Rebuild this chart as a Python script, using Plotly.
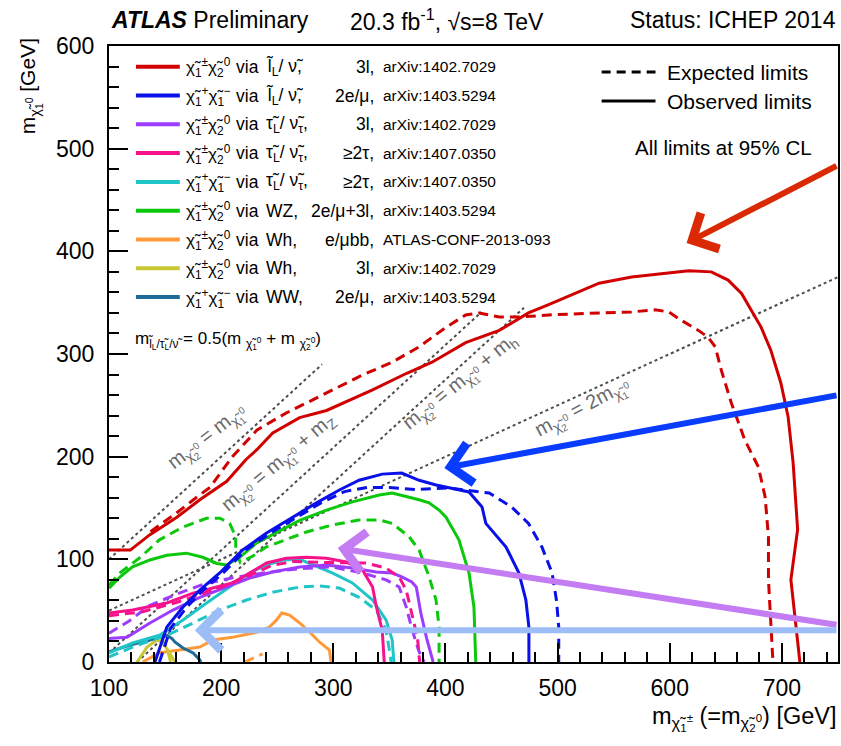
import plotly.graph_objects as go

# ---------------- data (GeV) ----------------
red_obs_x = [100, 119, 136.5, 160.5, 181, 205, 222, 232, 246, 270, 294, 314, 335, 365, 388, 418, 448, 474, 492, 537, 566, 617, 637, 652, 664, 681.5, 690, 699, 705.5, 710, 714, 708, 712, 716]
red_obs_y = [109, 109, 124, 141, 158, 176, 197, 207, 223, 238, 245, 255, 265, 281, 292, 311, 323, 340, 348, 369, 375, 381, 380, 372, 359, 326, 304, 272, 239, 194, 129, 80, 38, 0]
red_exp_x = [137, 160, 180, 190, 210, 232, 258, 281, 305, 326, 352.5, 376.5, 400.5, 418, 430, 448, 466, 492, 537, 566, 587, 599, 610, 625.5, 634, 640.6, 646, 655, 667, 679, 685, 688, 688, 689.6, 692]
red_exp_y = [127, 145, 162, 170, 200, 226, 242.5, 255, 268, 279.5, 292, 307, 326, 338, 340, 336, 336, 338, 340, 341, 343, 341, 333, 323, 316.5, 307, 284, 252, 216, 190, 161, 122, 80, 48, 0]

blue_obs_x = [141, 151.6, 166, 181, 198.7, 219, 240.5, 263.6, 285, 305.4, 323, 343.6, 361, 376.5, 391.6, 421, 432.6, 436, 454, 465.5, 471.7, 474.4, 474.4]
blue_obs_y = [0, 34, 53.6, 70, 86.7, 109, 125.6, 141, 155, 167.5, 177, 183, 184, 177, 172.4, 165.6, 151, 135, 112, 86.7, 60.4, 34, 0]
blue_exp_x = [145, 155, 169, 184, 202, 222, 244, 267, 289, 310, 330, 350, 374, 403, 427, 439, 459, 474, 486, 495, 499, 501, 501]
blue_exp_y = [0, 33, 53, 70, 87, 109, 125.6, 141, 155, 166, 170, 170, 168, 169.5, 166, 164.6, 151, 135, 112, 87, 60, 34, 0]

violet_obs_x = [100, 116, 136.5, 157, 181, 205, 225.4, 245.8, 270, 293.8, 317, 338.4, 352.5, 361, 370, 374, 378, 383, 389]
violet_obs_y = [23, 24, 38, 50.6, 63, 73, 81.8, 87.7, 92.6, 94.5, 91.5, 87.7, 86.7, 83, 78, 73, 48, 24, 0]
violet_exp_x = [100, 118, 136, 160, 185, 210, 240, 270, 299, 326, 347, 358.7, 365, 370.4, 376.5, 381]
violet_exp_y = [28, 40, 55, 66, 76, 82, 87, 91, 92.6, 86.7, 80, 73, 53.6, 31, 10, 0]

pink_obs_x = [100, 121, 151.6, 175, 196, 210, 225.4, 240.5, 258, 276, 293.8, 311.6, 326, 335, 338.4, 343.6, 345.4]
pink_obs_y = [47.7, 50.6, 57.5, 67, 73, 77, 86.7, 96.4, 101, 102, 101, 97.4, 89.6, 73, 53.6, 31, 0]
pink_exp_x = [100, 130, 160, 185, 205, 225, 245, 265, 290, 310, 329.4, 347, 358.7, 365, 370, 375, 377]
pink_exp_y = [45, 49, 58, 67, 75, 84, 94, 98, 97, 97, 96.4, 91.5, 82.8, 70, 47.7, 24, 0]

cyan_obs_x = [100, 121, 145, 166, 187, 207.6, 225.4, 240.5, 255, 270, 281.4, 299, 317, 335, 347, 352.5, 354]
cyan_obs_y = [9, 18.5, 26, 41, 57.5, 73, 86.7, 94.5, 99.4, 100, 94.5, 86.7, 77, 60.4, 41, 21.4, 0]
cyan_exp_x = [100, 120, 140, 151.6, 175, 198.7, 222.7, 245.8, 270, 287.6, 305.4, 323, 338.4, 347, 350, 351.6]
cyan_exp_y = [5, 14, 22, 26, 38, 50.6, 60.4, 68, 73, 74, 72, 63, 50.6, 31, 11.7, 0]

green_obs_x = [100, 110, 121, 136.5, 151.6, 169, 183.6, 196, 205, 216.5, 231.6, 245.8, 270, 293.8, 317, 341, 352.5, 376.5, 385.4, 394.3, 400.5, 412, 421, 425.4, 427]
green_obs_y = [72, 83, 92.6, 99.4, 104, 106, 102, 96, 94.5, 102, 116, 124, 138, 148, 156, 162.6, 164.6, 158, 155, 148, 141, 119, 86.7, 53.6, 0]
green_exp_x = [100, 110, 128, 145, 166, 187, 199, 207.6, 213, 213, 217, 228, 240, 258, 276, 299, 323, 341, 352.5, 367.6, 376.5, 385.4, 391.6, 394.3, 394.3]
green_exp_y = [75, 87, 102, 119, 131.5, 140, 140, 135, 122, 109, 97, 103, 112, 119, 126.6, 133.4, 138.3, 138.3, 135, 122, 109, 83, 60.4, 34, 0]

orange_obs_x = [130, 145, 163, 181, 192.5, 210, 231.6, 243, 249.4, 254, 261, 270, 279, 287.6, 296.5, 298]
orange_obs_y = [0, 9, 11.7, 14.6, 21.4, 24, 29, 34, 41, 47.7, 45.7, 38, 29, 19.5, 11.7, 0]
orange_exp_x = [221, 229, 237]
orange_exp_y = [0, 4, 8]

olive_obs_x = [125, 130, 134, 142.7, 148, 154, 158.7]
olive_obs_y = [0, 8, 14.6, 21.4, 18.5, 9, 0]
olive_exp_x = [146, 150, 152.5, 155]
olive_exp_y = [23, 18, 10, 0]

teal_obs_x = [100, 118.7, 136.5, 151.6, 156, 158.7, 166, 175, 181, 182]
teal_obs_y = [10, 16.5, 21.4, 26, 23, 19.5, 13.6, 8.8, 2, 0]

# kinematic lines: m(chi2) = a*m(chi1) + b, drawn between x limits
kin_a = [1.0, 1.0, 1.0, 2.0]
kin_b = [0.0, 91.2, 125.0, 0.0]
kin_xmin = [100, 100, 125.0, 100]
kin_xmax = [290, 432, 470, 750]

# arrows: (head x, head y, tail x, tail y)
arrow_head_x = [615, 399, 304, 176.5]
arrow_head_y = [408, 189, 111, 31]
arrow_tail_x = [750, 750, 750, 750]
arrow_tail_y = [484, 260, 36, 31]
arrow_colors = ["#d92a05", "#0a3cff", "#c47cf2", "#9dbdf7"]

colors = {"red": "#d10000", "blue": "#0a10e8", "violet": "#9d3cff", "pink": "#f7128c",
          "cyan": "#20c5c8", "green": "#0cc80c", "orange": "#ff9a3a", "olive": "#c9c834",
          "teal": "#1e6a99"}

leg_colors = ["red", "blue", "violet", "pink", "cyan", "green", "orange", "olive", "teal"]
CN = "χ̃<sub>1</sub><sup>±</sup>χ̃<sub>2</sub><sup>0</sup>"
CC = "χ̃<sub>1</sub><sup>+</sup>χ̃<sub>1</sub><sup>−</sup>"
leg_particle = [CN, CC, CN, CN, CC, CN, CN, CN, CC]
leg_med = ["l̃<sub>L</sub>/ ν̃,", "l̃<sub>L</sub>/ ν̃,", "τ̃<sub>L</sub>/ ν̃<sub>τ</sub>,", "τ̃<sub>L</sub>/ ν̃<sub>τ</sub>,",
           "τ̃<sub>L</sub>/ ν̃<sub>τ</sub>,", "WZ,", "Wh,", "Wh,", "WW,"]
leg_chan = ["3l,", "2e/μ,", "3l,", "≥2τ,", "≥2τ,", "2e/μ+3l,", "e/μbb,", "3l,", "2e/μ,"]
leg_ref = ["arXiv:1402.7029", "arXiv:1403.5294", "arXiv:1402.7029", "arXiv:1407.0350", "arXiv:1407.0350",
           "arXiv:1403.5294", "ATLAS-CONF-2013-093", "arXiv:1402.7029", "arXiv:1403.5294"]

# ---------------- figure ----------------
FONT = "Liberation Sans, Arial, Helvetica, sans-serif"
L, R, T, B = 109, 840, 46, 662
W, H = 841, 746


def px(xp):
    return (xp - L) / (R - L)


def py(yp):
    return (B - yp) / (B - T)


fig = go.Figure()

# kinematic dotted lines
for a, b, x0, x1 in zip(kin_a, kin_b, kin_xmin, kin_xmax):
    xs = [x0, x1]
    ys = [(x - b) / a for x in xs]
    fig.add_trace(go.Scatter(x=xs, y=ys, mode="lines",
                             line=dict(color="#4d4d4d", width=2, dash="dot"),
                             hoverinfo="skip", showlegend=False))

curves = [
    (orange_obs_x, orange_obs_y, "orange", "solid"), (orange_exp_x, orange_exp_y, "orange", "dash"),
    (olive_obs_x, olive_obs_y, "olive", "solid"), (olive_exp_x, olive_exp_y, "olive", "dash"),
    (teal_obs_x, teal_obs_y, "teal", "solid"),
    (cyan_exp_x, cyan_exp_y, "cyan", "dash"), (cyan_obs_x, cyan_obs_y, "cyan", "solid"),
    (violet_exp_x, violet_exp_y, "violet", "dash"), (violet_obs_x, violet_obs_y, "violet", "solid"),
    (pink_exp_x, pink_exp_y, "pink", "dash"), (pink_obs_x, pink_obs_y, "pink", "solid"),
    (green_exp_x, green_exp_y, "green", "dash"), (green_obs_x, green_obs_y, "green", "solid"),
    (blue_exp_x, blue_exp_y, "blue", "dash"), (blue_obs_x, blue_obs_y, "blue", "solid"),
    (red_exp_x, red_exp_y, "red", "dash"), (red_obs_x, red_obs_y, "red", "solid"),
]
for xs, ys, c, d in curves:
    fig.add_trace(go.Scatter(x=xs, y=ys, mode="lines",
                             line=dict(color=colors[c], width=3,
                                       dash="10px,6px" if d == "dash" else "solid"),
                             hoverinfo="skip", showlegend=False))

ann = []
shapes = []

# arrows
for hx, hy, tx, ty, c in zip(arrow_head_x, arrow_head_y, arrow_tail_x, arrow_tail_y, arrow_colors):
    ann.append(dict(x=hx, y=hy, ax=tx, ay=ty, xref="x", yref="y", axref="x", ayref="y",
                    showarrow=True, arrowhead=4, arrowsize=1.3, arrowwidth=6, arrowcolor=c, text=""))

# kinematic labels
GR = "#6a6a6a"
kin_lab = [
    ("m<sub>χ̃<sub>2</sub><sup>0</sup></sub> = m<sub>χ̃<sub>1</sub><sup>0</sup></sub>", 188, 219, -38),
    ("m<sub>χ̃<sub>2</sub><sup>0</sup></sub> = m<sub>χ̃<sub>1</sub><sup>0</sup></sub> + m<sub>Z</sub>", 252, 193, -40),
    ("m<sub>χ̃<sub>2</sub><sup>0</sup></sub> = m<sub>χ̃<sub>1</sub><sup>0</sup></sub> + m<sub>h</sub>", 414, 272, -39),
    ("m<sub>χ̃<sub>2</sub><sup>0</sup></sub> = 2m<sub>χ̃<sub>1</sub><sup>0</sup></sub>", 523, 247, -28),
]
for t, x, y, ang in kin_lab:
    ann.append(dict(x=x, y=y, xref="x", yref="y", text=t, showarrow=False, textangle=ang,
                    font=dict(family=FONT, size=20, color=GR), xanchor="center", yanchor="middle"))

ann.append(dict(x=px(133), y=py(340), xref="paper", yref="paper", xanchor="left", yanchor="middle",
                text="m<sub>l̃<sub>L</sub>/τ̃<sub>L</sub>/ν̃</sub> = 0.5(m <sub>χ̃<sub>1</sub><sup>0</sup></sub> + m <sub>χ̃<sub>2</sub><sup>0</sup></sub>)",
                showarrow=False, font=dict(family=FONT, size=17, color="black")))

# legend (left block)
for i, c in enumerate(leg_colors):
    yy = 66.7 + i * 28.8
    shapes.append(dict(type="line", xref="paper", yref="paper", x0=px(136), x1=px(180), y0=py(yy), y1=py(yy),
                       line=dict(color=colors[c], width=4)))
    common = dict(xref="paper", yref="paper", showarrow=False, yanchor="middle")
    ann.append(dict(x=px(184), y=py(yy + 1), xanchor="left", text=leg_particle[i],
                    font=dict(family=FONT, size=17, color="black"), **common))
    ann.append(dict(x=px(234), y=py(yy), xanchor="left", text="via",
                    font=dict(family=FONT, size=17.5, color="black"), **common))
    ann.append(dict(x=px(264), y=py(yy), xanchor="left", text=leg_med[i],
                    font=dict(family=FONT, size=17.5, color="black"), **common))
    ann.append(dict(x=px(377), y=py(yy), xanchor="right", text=leg_chan[i],
                    font=dict(family=FONT, size=17.5, color="black"), **common))
    ann.append(dict(x=px(382), y=py(yy), xanchor="left", text=leg_ref[i],
                    font=dict(family=FONT, size=15.5, color="black"), **common))

# legend (right block)
shapes.append(dict(type="line", xref="paper", yref="paper", x0=px(603), x1=px(657), y0=py(72), y1=py(72),
                   line=dict(color="black", width=3, dash="9px,6px")))
shapes.append(dict(type="line", xref="paper", yref="paper", x0=px(603), x1=px(657), y0=py(101), y1=py(101),
                   line=dict(color="black", width=3)))
ann.append(dict(x=px(667), y=py(72), xref="paper", yref="paper", xanchor="left", yanchor="middle",
                text="Expected limits", showarrow=False, font=dict(family=FONT, size=21, color="black")))
ann.append(dict(x=px(667), y=py(101), xref="paper", yref="paper", xanchor="left", yanchor="middle",
                text="Observed limits", showarrow=False, font=dict(family=FONT, size=21, color="black")))
ann.append(dict(x=px(816), y=py(147), xref="paper", yref="paper", xanchor="right", yanchor="middle",
                text="All limits at 95% CL", showarrow=False, font=dict(family=FONT, size=20.5, color="black")))

# header
ann.append(dict(x=px(109), y=py(20), xref="paper", yref="paper", xanchor="left", yanchor="middle",
                text="<b><i>ATLAS</i></b> Preliminary", showarrow=False,
                font=dict(family=FONT, size=23, color="black")))
ann.append(dict(x=px(349), y=py(20), xref="paper", yref="paper", xanchor="left", yanchor="middle",
                text="20.3 fb<sup>-1</sup>, √s=8 TeV", showarrow=False,
                font=dict(family=FONT, size=23, color="black")))
ann.append(dict(x=px(840), y=py(20), xref="paper", yref="paper", xanchor="right", yanchor="middle",
                text="Status: ICHEP 2014", showarrow=False,
                font=dict(family=FONT, size=23, color="black")))

# axis titles
ann.append(dict(x=px(30), y=py(36), xref="paper", yref="paper", xanchor="center", yanchor="top",
                text="m<sub>χ̃<sub>1</sub><sup>0</sup></sub> [GeV]", textangle=-90, showarrow=False,
                font=dict(family=FONT, size=21, color="black")))
ann.append(dict(x=px(840), y=py(718), xref="paper", yref="paper", xanchor="right", yanchor="middle",
                text="m<sub>χ̃<sub>1</sub><sup>±</sup></sub> (=m<sub>χ̃<sub>2</sub><sup>0</sup></sub>) [GeV]",
                showarrow=False, font=dict(family=FONT, size=23.5, color="black")))

axis_common = dict(showline=True, linecolor="black", linewidth=2, mirror=True, ticks="inside",
                   tickcolor="black", tickwidth=1.5, ticklen=19, showgrid=False, zeroline=False,
                   tickfont=dict(family=FONT, size=23, color="black"),
                   minor=dict(ticks="inside", ticklen=10, tickcolor="black", tickwidth=1.5, dtick=20))

fig.update_layout(
    width=W, height=H, margin=dict(l=L, r=W - R, t=T, b=H - B),
    paper_bgcolor="white", plot_bgcolor="white",
    xaxis=dict(range=[100, 750], dtick=100, tick0=0, ticklabelstandoff=4, **axis_common),
    yaxis=dict(range=[0, 600], dtick=100, tick0=0, ticklabelstandoff=8, **axis_common),
    annotations=ann, shapes=shapes, showlegend=False,
)

fig.write_html("out.html", config={"displayModeBar": False})

# remove the default page margin so the figure sits at the window's top-left corner
with open("out.html", "r", encoding="utf-8") as f:
    html = f.read()
html = html.replace("<head>", "<head><style>html,body{margin:0;padding:0;overflow:hidden;}</style>", 1)
with open("out.html", "w", encoding="utf-8") as f:
    f.write(html)
